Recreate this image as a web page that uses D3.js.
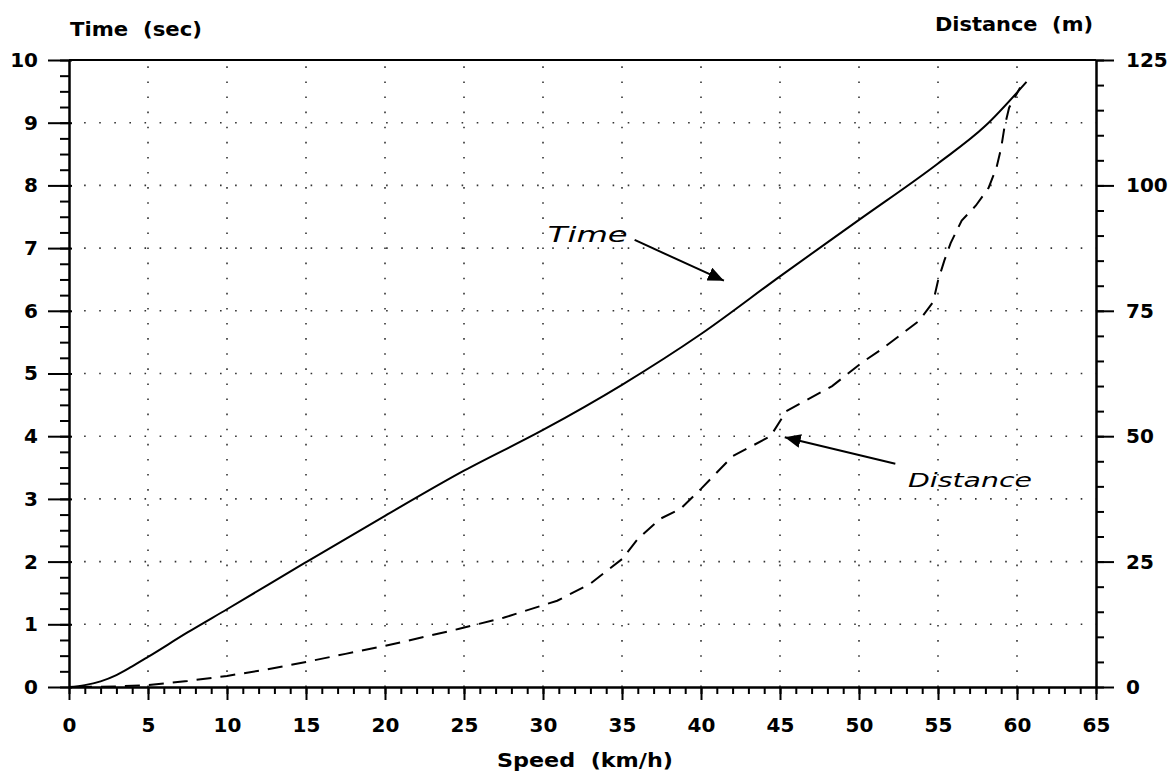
<!DOCTYPE html>
<html>
<head>
<meta charset="utf-8">
<script src="https://cdn.jsdelivr.net/npm/d3@7"></script>
<style>
  body { margin: 0; background: #fff; }
  svg { display: block; }
  .axis text { font-family: "DejaVu Sans", sans-serif; font-weight: bold; font-size: 20px; fill: #000; }
  .axis line, .axis path { stroke: #000; stroke-width: 2px; }
  .grid line { stroke: #333; stroke-width: 1.6px; stroke-dasharray: 1.6 13.5; }
  .title { font-family: "DejaVu Sans", sans-serif; font-weight: bold; font-size: 20px; }
  .note { font-family: "DejaVu Sans", sans-serif; font-style: italic; }
</style>
</head>
<body>
<svg width="1175" height="775"></svg>
<script>
// **** Data ****
// Time (sec) against speed (km/h), solid line, left axis
const timeSpeed = [0, 1, 2, 3, 4, 5, 7.5, 10, 15, 20, 25, 30, 35, 40, 45, 50, 55, 58, 60.6];
const timeSec   = [0, 0.03, 0.09, 0.19, 0.33, 0.48, 0.87, 1.24, 1.99, 2.73, 3.45, 4.1, 4.82, 5.63, 6.55, 7.45, 8.35, 8.95, 9.65];

// Distance (m) against speed (km/h), dashed line, right axis
const distSpeed = [0.5, 3, 5, 7.5, 10, 12.5, 15, 17.5, 20, 22.5, 24.7, 27.5, 30.9, 33, 35, 36, 37.4, 38.7, 40, 42, 44.4, 45.4, 48.3, 50.2, 51.5, 53.8, 54.7, 55, 55.4, 55.8, 56.5, 57.4, 58.2, 58.7, 59, 59.2, 59.5, 60.2];
const distM     = [0, 0.1, 0.4, 1.2, 2.2, 3.5, 5, 6.6, 8.2, 10, 11.6, 13.8, 17.2, 20.6, 25.5, 29.5, 33.5, 35.5, 39.5, 46, 50, 55, 60, 64.7, 67.5, 73, 76.8, 81, 85, 88.5, 93, 96, 99.5, 103.5, 107.5, 111.5, 115.5, 119.5];

// Tick values
const speedTicks = [0, 5, 10, 15, 20, 25, 30, 35, 40, 45, 50, 55, 60, 65];
const timeTicks  = [0, 1, 2, 3, 4, 5, 6, 7, 8, 9, 10];
const distTicks  = [0, 25, 50, 75, 100, 125];

// **** Scales ****
var xScale = d3.scaleLinear().domain([0, 65]).range([69, 1096]);
var yTime  = d3.scaleLinear().domain([0, 10]).range([687, 60]);
var yDist  = d3.scaleLinear().domain([0, 125]).range([687, 60]);

var svg = d3.select('svg');

// **** Dotted grid ****
var grid = svg.append('g').attr('class', 'grid');
grid.selectAll('.vg').data(speedTicks.filter(d => d > 0 && d < 65)).enter()
    .append('line')
    .attr('x1', d => xScale(d)).attr('x2', d => xScale(d))
    .attr('y1', yTime(0)).attr('y2', yTime(10));
grid.selectAll('.hg').data(timeTicks.filter(d => d > 0 && d < 10)).enter()
    .append('line')
    .attr('x1', xScale(0)).attr('x2', xScale(65))
    .attr('y1', d => yTime(d)).attr('y2', d => yTime(d));

// **** Axes ****
// minor ticks first
svg.append('g').attr('class', 'axis')
    .attr('transform', 'translate(0,' + yTime(0) + ')')
    .call(d3.axisBottom(xScale).tickValues(d3.range(0, 66, 1)).tickSize(7).tickSizeOuter(0).tickFormat(''));
svg.append('g').attr('class', 'axis')
    .attr('transform', 'translate(' + xScale(0) + ',0)')
    .call(d3.axisLeft(yTime).tickValues(d3.range(0, 10.01, 0.25)).tickSize(9).tickSizeOuter(0).tickFormat(''));
svg.append('g').attr('class', 'axis')
    .attr('transform', 'translate(' + xScale(65) + ',0)')
    .call(d3.axisRight(yDist).tickValues(d3.range(0, 126, 5)).tickSize(8).tickSizeOuter(0).tickFormat(''));

// major ticks with labels
svg.append('g').attr('class', 'axis')
    .attr('transform', 'translate(0,' + yTime(0) + ')')
    .call(d3.axisBottom(xScale).tickValues(speedTicks).tickSize(13).tickSizeOuter(0).tickPadding(18));

var leftAxis = svg.append('g').attr('class', 'axis')
    .attr('transform', 'translate(' + xScale(0) + ',0)')
    .call(d3.axisLeft(yTime).tickValues(timeTicks).tickSize(21).tickSizeOuter(0).tickPadding(10));
leftAxis.selectAll('.tick line').attr('x1', 3);

svg.append('g').attr('class', 'axis')
    .attr('transform', 'translate(' + xScale(65) + ',0)')
    .call(d3.axisRight(yDist).tickValues(distTicks).tickSize(18).tickSizeOuter(0).tickPadding(12));

// top frame line
svg.append('line')
    .attr('x1', xScale(0)).attr('x2', xScale(65))
    .attr('y1', yTime(10)).attr('y2', yTime(10))
    .attr('stroke', '#000').attr('stroke-width', 2);

// **** Curves ****
var timeLine = d3.line()
    .x((d, i) => xScale(timeSpeed[i]))
    .y(d => yTime(d))
    .curve(d3.curveMonotoneX);

svg.append('path')
    .attr('d', timeLine(timeSec))
    .attr('fill', 'none').attr('stroke', '#000').attr('stroke-width', 2);

var distLine = d3.line()
    .x((d, i) => xScale(distSpeed[i]))
    .y(d => yDist(d));

svg.append('path')
    .attr('d', distLine(distM))
    .attr('fill', 'none').attr('stroke', '#000').attr('stroke-width', 2)
    .attr('stroke-dasharray', '15 9');

// **** Titles ****
svg.append('text').attr('class', 'title')
    .attr('x', 70).attr('y', 36)
    .attr('textLength', 132).attr('lengthAdjust', 'spacingAndGlyphs')
    .attr('xml:space', 'preserve')
    .text('Time  (sec)');

svg.append('text').attr('class', 'title')
    .attr('x', 935).attr('y', 31)
    .attr('textLength', 158).attr('lengthAdjust', 'spacingAndGlyphs')
    .attr('xml:space', 'preserve')
    .text('Distance  (m)');

svg.append('text').attr('class', 'title')
    .attr('x', 585).attr('y', 767)
    .attr('text-anchor', 'middle')
    .attr('textLength', 176).attr('lengthAdjust', 'spacingAndGlyphs')
    .attr('xml:space', 'preserve')
    .text('Speed  (km/h)');

// **** Annotations ****
svg.append('defs').append('marker')
    .attr('id', 'head')
    .attr('markerUnits', 'userSpaceOnUse')
    .attr('viewBox', '0 0 16 14')
    .attr('refX', 16).attr('refY', 7)
    .attr('markerWidth', 16).attr('markerHeight', 14)
    .attr('orient', 'auto')
    .append('path').attr('d', 'M0,0 L16,7 L0,14 Z').attr('fill', '#000');

svg.append('text').attr('class', 'note')
    .attr('x', xScale(30.3)).attr('y', yTime(7.1))
    .attr('font-size', 22)
    .attr('textLength', 80).attr('lengthAdjust', 'spacingAndGlyphs')
    .text('Time');

svg.append('line')
    .attr('x1', xScale(35.8)).attr('y1', yTime(7.13))
    .attr('x2', xScale(41.45)).attr('y2', yTime(6.48))
    .attr('stroke', '#000').attr('stroke-width', 2)
    .attr('marker-end', 'url(#head)');

svg.append('text').attr('class', 'note')
    .attr('x', xScale(53.1)).attr('y', yDist(39.9))
    .attr('font-size', 20)
    .attr('textLength', 124).attr('lengthAdjust', 'spacingAndGlyphs')
    .text('Distance');

svg.append('line')
    .attr('x1', xScale(52.3)).attr('y1', yDist(44.5))
    .attr('x2', xScale(45.3)).attr('y2', yDist(49.8))
    .attr('stroke', '#000').attr('stroke-width', 2)
    .attr('marker-end', 'url(#head)');
</script>
</body>
</html>
